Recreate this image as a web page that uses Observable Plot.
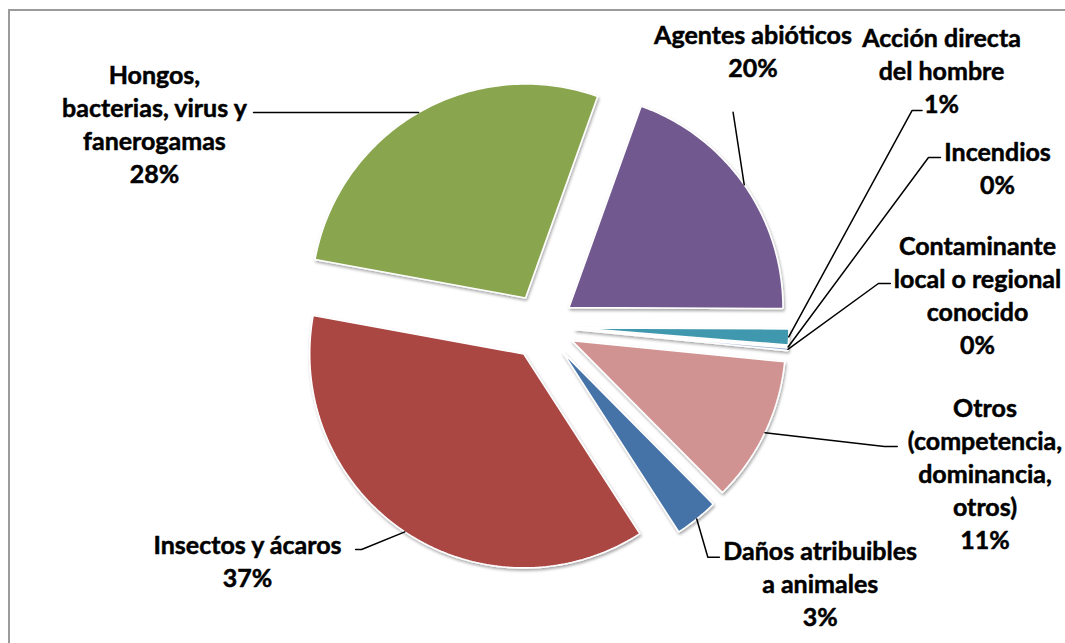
<!DOCTYPE html>
<html><head><meta charset="utf-8">
<script src="https://cdn.jsdelivr.net/npm/d3@7"></script>
<script src="https://cdn.jsdelivr.net/npm/@observablehq/plot@0.6"></script>
<style>
body{margin:0;background:#fff;}
#wrap{position:relative;width:1065px;height:643px;overflow:hidden;background:#fff;}
#border{position:absolute;left:8px;top:9px;width:1200px;height:800px;border:2px solid #9b9b9b;box-sizing:border-box;}
#chart{position:absolute;left:0;top:0;}
</style></head><body>
<div id="wrap"><div id="border"></div><div id="chart"></div></div>
<script>
// ---- data ----
const categories = [
  "Agentes abióticos",
  "Acción directa del hombre",
  "Incendios",
  "Contaminante local o regional conocido",
  "Otros (competencia, dominancia, otros)",
  "Daños atribuibles a animales",
  "Insectos y ácaros",
  "Hongos, bacterias, virus y fanerogamas"
];
const values = [19.6, 1.2, 0.1, 0.2, 11.0, 3.3, 37.0, 27.6];
const labelLines = [
  ["Agentes abióticos"],
  ["Acción directa", "del hombre"],
  ["Incendios"],
  ["Contaminante", "local o regional", "conocido"],
  ["Otros", "(competencia,", "dominancia,", "otros)"],
  ["Daños atribuibles", "a animales"],
  ["Insectos y ácaros"],
  ["Hongos,", "bacterias, virus y", "fanerogamas"]
];
const colors = ["#71588F", "#4198AF", "#DB843D", "#93A9CF", "#D19392", "#4572A7", "#AA4643", "#89A54E"];

// ---- layout (units: pie radius = 1, origin at pie centre) ----
const W = 1065, H = 643;
const centerPx = [541.5, 326], radiusPx = 214;
const startAngleDeg = 19.7;
const explode = 0.154;
const labelLayout = [
  {x: 0.986, y: 1.294, lead: [[0.893, 1.001]]},
  {x: 1.867, y: 1.199, lead: [[1.776, 1.009], [1.729, 1.009]]},
  {x: 2.129, y: 0.745, lead: [[1.862, 0.790], [1.806, 0.790]]},
  {x: 2.035, y: 0.154, lead: [[1.628, 0.201], [1.572, 0.201]]},
  {x: 2.070, y: -0.680, lead: [[1.660, -0.561], [1.600, -0.561]]},
  {x: 1.300, y: -1.196, lead: [[0.829, -1.078], [0.775, -1.078]]},
  {x: -1.376, y: -1.093, lead: [[-0.871, -1.042], [-0.843, -1.042]]},
  {x: -1.811, y: 0.953, lead: [[-1.348, 1.000], [-1.306, 1.000]]}
];

// ---- geometry ----
const total = d3.sum(values);
const slicePts = [], leaderPts = [], labels = [];
let acc = 0;
const a00 = startAngleDeg * Math.PI / 180;
values.forEach((v, i) => {
  const a0 = a00 + acc / total * 2 * Math.PI;
  acc += v;
  const a1 = a00 + acc / total * 2 * Math.PI;
  const mid = (a0 + a1) / 2;
  const ox = explode * Math.sin(mid), oy = explode * Math.cos(mid);
  const key = categories[i];
  slicePts.push({key, x: ox, y: oy});
  const n = Math.max(2, Math.ceil((a1 - a0) / (Math.PI / 180)));
  for (let k = 0; k <= n; k++) {
    const t = a0 + (a1 - a0) * k / n;
    slicePts.push({key, x: ox + Math.sin(t), y: oy + Math.cos(t)});
  }
  const L = labelLayout[i];
  L.lead.forEach(p => leaderPts.push({key, x: p[0], y: p[1]}));
  leaderPts.push({key, x: ox + Math.sin(mid), y: oy + Math.cos(mid)});
  labels.push({key, x: L.x, y: L.y, text: labelLines[i].concat([Math.round(v / total * 100) + "%"]).join("\n")});
});

const plot = Plot.plot({
  width: W, height: H, margin: 0,
  x: {domain: [-centerPx[0] / radiusPx, (W - centerPx[0]) / radiusPx], axis: null},
  y: {domain: [-(H - centerPx[1]) / radiusPx, centerPx[1] / radiusPx], axis: null},
  color: {domain: categories, range: colors},
  style: {background: "transparent", overflow: "visible"},
  marks: [
    Plot.line(slicePts, {x: "x", y: "y", z: "key", fill: "key", stroke: "white", strokeWidth: 1.6, curve: "linear-closed", strokeLinejoin: "miter"}),
    Plot.line(leaderPts, {x: "x", y: "y", z: "key", stroke: "#000", strokeWidth: 1.5}),
    Plot.text(labels, {x: "x", y: "y", text: "text", fontSize: 25, fontWeight: "bold", lineHeight: 1.32, fill: "#000", stroke: "#000", strokeWidth: 0.5, fontFamily: "Lato, 'Open Sans', sans-serif"})
  ]
});
// subtle drop shadow on slices
const ns = "http://www.w3.org/2000/svg";
const defs = document.createElementNS(ns, "defs");
defs.innerHTML = '<filter id="sh" x="-20%" y="-20%" width="140%" height="140%"><feDropShadow dx="1" dy="2" stdDeviation="1.6" flood-color="#000" flood-opacity="0.35"/></filter>';
plot.insertBefore(defs, plot.firstChild);
const sliceG = plot.querySelectorAll('g[aria-label="line"]')[0];
if (sliceG) sliceG.setAttribute("filter", "url(#sh)");
document.getElementById("chart").appendChild(plot);
</script>
</body></html>
